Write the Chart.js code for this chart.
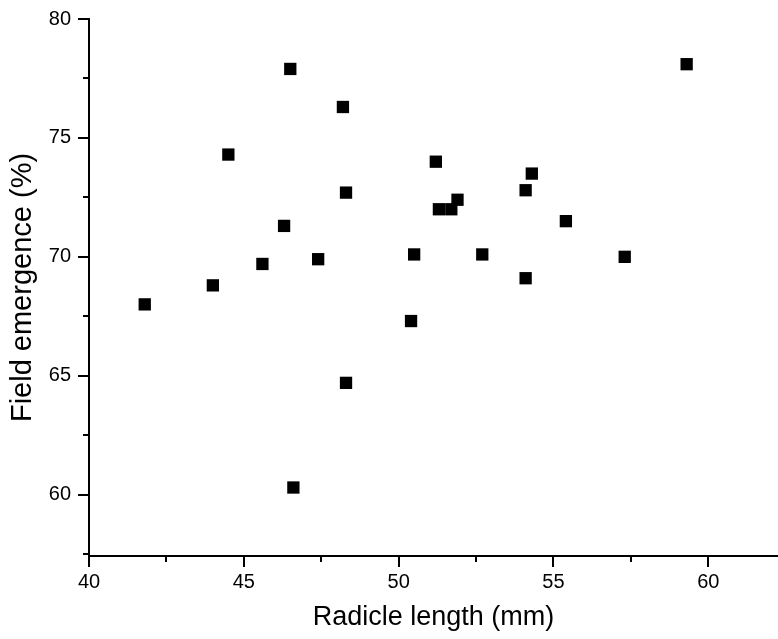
<!DOCTYPE html>
<html>
<head>
<meta charset="utf-8">
<script src="https://cdn.jsdelivr.net/npm/chart.js@4"></script>
<style>
  body { margin: 0; background: #fff; }
  #wrap { width: 778px; height: 639px; }
</style>
</head>
<body>
<div id="wrap"><canvas id="myChart" width="778" height="639"></canvas></div>
<script>
// radicle length (mm) vs field emergence (%)
const radicleLength = [41.8, 44.0, 44.5, 45.6, 46.3, 47.4, 46.5, 48.2, 48.3, 51.9, 51.3, 51.7,
                       50.5, 52.7, 50.4, 48.3, 51.2, 54.3, 54.1, 55.4, 54.1, 59.3, 57.3, 46.6];
const fieldEmergence = [68.0, 68.8, 74.3, 69.7, 71.3, 69.9, 77.9, 76.3, 72.7, 72.4, 72.0, 72.0,
                        70.1, 70.1, 67.3, 64.7, 74.0, 73.5, 72.8, 71.5, 69.1, 78.1, 70.0, 60.3];
const xMinorTicks = [42.5, 47.5, 52.5, 57.5];
const yMinorTicks = [57.5, 62.5, 67.5, 72.5, 77.5];

const points = radicleLength.map((v, i) => ({ x: v, y: fieldEmergence[i] }));

const fontFamily = '"Liberation Sans", Arial, sans-serif';

// short minor ticks outside the axes
const minorTicks = {
    id: 'minorTicks',
    afterDraw(chart) {
        const ctx = chart.ctx;
        const x = chart.scales.x;
        const y = chart.scales.y;
        ctx.save();
        ctx.strokeStyle = '#000';
        ctx.lineWidth = 2;
        xMinorTicks.forEach(v => {
            const px = Math.round(x.getPixelForValue(v));
            ctx.beginPath();
            ctx.moveTo(px, x.top);
            ctx.lineTo(px, x.top + 6);
            ctx.stroke();
        });
        yMinorTicks.forEach(v => {
            const py = Math.round(y.getPixelForValue(v));
            ctx.beginPath();
            ctx.moveTo(y.right, py);
            ctx.lineTo(y.right - 6, py);
            ctx.stroke();
        });
        ctx.restore();
    }
};

const ctx = document.getElementById('myChart').getContext('2d');
const myChart = new Chart(ctx, {
    type: 'scatter',
    data: {
        datasets: [{
            data: points,
            pointStyle: 'rect',
            pointRadius: 8.7,
            pointBorderWidth: 0,
            backgroundColor: '#000',
            borderColor: '#000'
        }]
    },
    options: {
        responsive: false,
        animation: false,
        events: [],
        layout: { autoPadding: false, padding: { top: 17, right: 0, left: 0, bottom: 0 } },
        plugins: {
            legend: { display: false },
            tooltip: { enabled: false }
        },
        scales: {
            x: {
                type: 'linear',
                min: 40,
                max: 62.25,
                afterFit(scale) { scale.height = 83; },
                border: { display: true, color: '#000', width: 2 },
                grid: { drawOnChartArea: false, drawTicks: true, tickLength: 11, color: '#000', lineWidth: 2 },
                ticks: {
                    stepSize: 5,
                    includeBounds: false,
                    padding: 3,
                    color: '#000',
                    maxRotation: 0,
                    font: { family: fontFamily, size: 20 }
                },
                title: {
                    display: true,
                    text: 'Radicle length (mm)',
                    color: '#000',
                    padding: { top: 0, bottom: 5 },
                    font: { family: fontFamily, size: 27 }
                }
            },
            y: {
                type: 'linear',
                min: 57.42,
                max: 80,
                afterFit(scale) { scale.width = 89; },
                border: { display: true, color: '#000', width: 2 },
                grid: { drawOnChartArea: false, drawTicks: true, tickLength: 11, color: '#000', lineWidth: 2 },
                ticks: {
                    stepSize: 5,
                    includeBounds: false,
                    padding: 7,
                    color: '#000',
                    font: { family: fontFamily, size: 20 }
                },
                title: {
                    display: true,
                    text: 'Field emergence (%)',
                    color: '#000',
                    padding: { top: 6, bottom: 0 },
                    font: { family: fontFamily, size: 29 }
                }
            }
        }
    },
    plugins: [minorTicks]
});
</script>
</body>
</html>
